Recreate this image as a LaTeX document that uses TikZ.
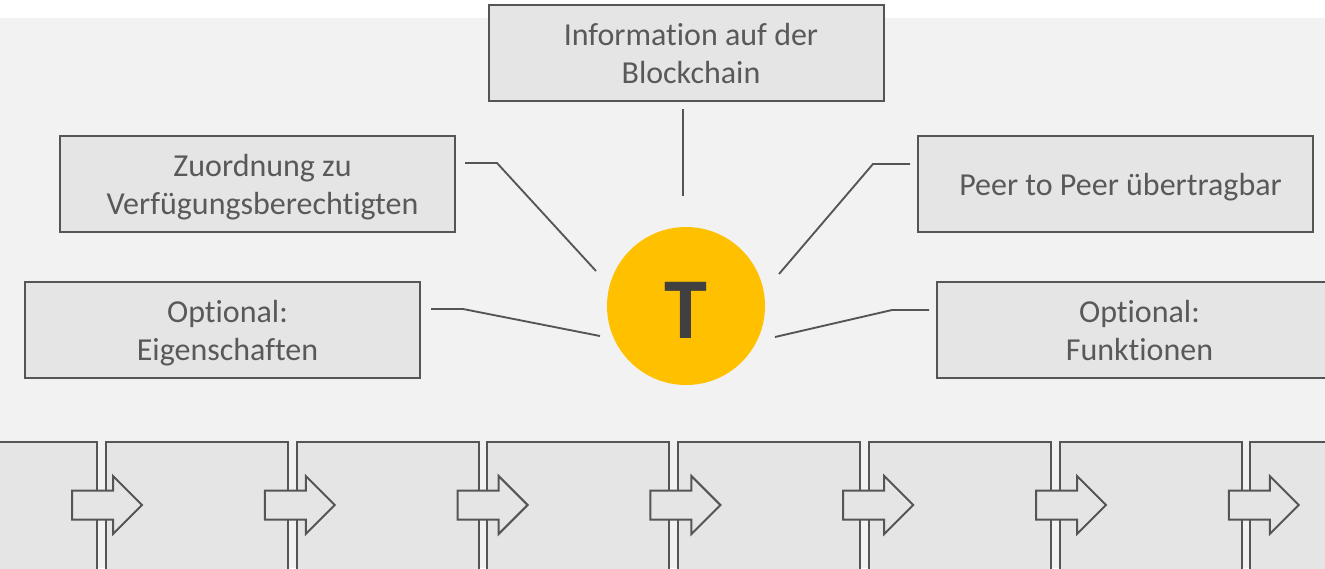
\documentclass[tikz,border=0pt]{standalone}
\usepackage{fontspec}
\setmainfont{Carlito}[RawFeature=-liga]
\definecolor{bggray}{HTML}{F2F2F2}
\definecolor{boxgray}{HTML}{E5E5E5}
\definecolor{linegray}{HTML}{555555}
\definecolor{textgray}{HTML}{595959}
\definecolor{tgold}{HTML}{FFC000}
\definecolor{tgray}{HTML}{404040}
\newcommand{\boxtext}[1]{\hspace*{7.5pt}\raisebox{-3pt}[\height][\depth]{\begin{tabular}{@{}c@{}}#1\end{tabular}}}
\tikzset{
  infobox/.style={draw=linegray, line width=1.5pt, fill=boxgray, minimum width=296.25pt, minimum height=72pt, text=textgray, font=\fontsize{24pt}{28.5pt}\selectfont, inner sep=0pt},
  chainbox/.style={draw=linegray, line width=1.5pt, fill=boxgray, minimum width=136.5pt, minimum height=118.5pt, inner sep=0pt},
  chainarrow/.style={draw=linegray, line width=1.5pt, fill=boxgray},
  link/.style={draw=linegray, line width=1.4pt},
  token/.style={circle, fill=tgold, minimum size=118.5pt, inner sep=0pt},
  tokenletter/.style={font=\fontsize{65pt}{65pt}\selectfont\bfseries, text=tgray, inner sep=0pt}
}
\begin{document}
\begin{tikzpicture}[x=0.75pt,y=-0.75pt]
\path[use as bounding box] (0,0) rectangle (1325,568);
\clip (0,0) rectangle (1325,568);
\fill[white] (0,0) rectangle (1325,18);
\fill[bggray] (0,18) rectangle (1325,568);

% info boxes
\node[infobox] (info) at (686,53.3) {\boxtext{Information auf der\\Blockchain}};
\node[infobox] (zuord) at (257.5,184) {\boxtext{Zuordnung zu\\Verfügungsberechtigten}};
\node[infobox] (eigen) at (222.5,330) {\boxtext{Optional:\\Eigenschaften}};
\node[infobox] (peer) at (1115.5,184) {\boxtext{Peer to Peer übertragbar}};
\node[infobox] (funk) at (1134.5,330) {\boxtext{Optional:\\Funktionen}};

% token
\node[token] (tok) at (686,306) {};
\node[tokenletter] (tletter) at (686,310) {T};

% connector end points
\coordinate (infoA) at (683,109);
\coordinate (infoB) at (683,196);
\coordinate (zuA) at (465,163);
\coordinate (zuB) at (497,163);
\coordinate (zuC) at (596,271);
\coordinate (eiA) at (431,309);
\coordinate (eiB) at (463,309);
\coordinate (eiC) at (600,336);
\coordinate (peA) at (910,164);
\coordinate (peB) at (873,164);
\coordinate (peC) at (779,274);
\coordinate (fuA) at (929,310);
\coordinate (fuB) at (892,310);
\coordinate (fuC) at (775,337);

\draw[link] (infoA) -- (infoB);
\draw[link] (zuA) -- (zuB) -- (zuC);
\draw[link] (eiA) -- (eiB) -- (eiC);
\draw[link] (peA) -- (peB) -- (peC);
\draw[link] (fuA) -- (fuB) -- (fuC);

% chain of blocks
\foreach \k in {0,...,7}
  \node[chainbox] (chain\k) at ({6.3+190.7*\k},521) {};
\foreach \k in {0,...,6}
  \draw[chainarrow] ({72+192.8*\k},490.5) -- ++(41,0) -- ++(0,-14.5) -- ++(29,29) -- ++(-29,29) -- ++(0,-14.5) -- ++(-41,0) -- cycle;
\end{tikzpicture}
\end{document}
